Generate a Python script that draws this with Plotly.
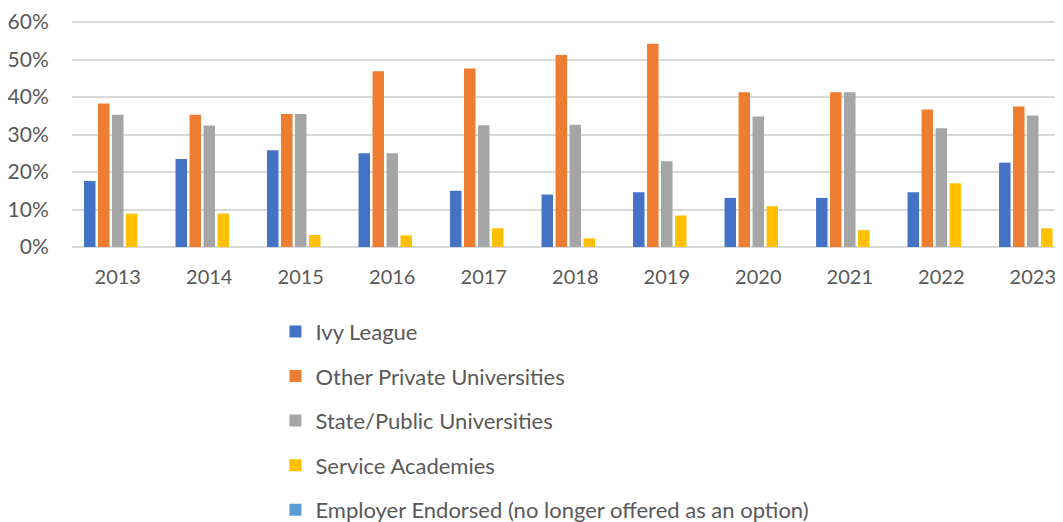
import plotly.graph_objects as go

years = ["2013", "2014", "2015", "2016", "2017", "2018", "2019", "2020", "2021", "2022", "2023"]
ivy_league = [0.176, 0.235, 0.258, 0.250, 0.150, 0.140, 0.146, 0.131, 0.131, 0.146, 0.225]
other_private = [0.383, 0.353, 0.355, 0.469, 0.476, 0.512, 0.542, 0.413, 0.413, 0.367, 0.375]
state_public = [0.353, 0.324, 0.355, 0.250, 0.325, 0.326, 0.229, 0.348, 0.413, 0.317, 0.351]
service_academies = [0.089, 0.089, 0.032, 0.031, 0.050, 0.023, 0.084, 0.109, 0.045, 0.170, 0.050]
employer_endorsed = [0, 0, 0, 0, 0, 0, 0, 0, 0, 0, 0]

series = [
    ("Ivy League", ivy_league, "#4472C4"),
    ("Other Private Universities", other_private, "#ED7D31"),
    ("State/Public Universities", state_public, "#A5A5A5"),
    ("Service Academies", service_academies, "#FFC000"),
    ("Employer Endorsed (no longer offered as an option)", employer_endorsed, "#5B9BD5"),
]

FONT = "Lato"
TXT = "#595959"

fig = go.Figure()
for i, (name, vals, color) in enumerate(series):
    fig.add_trace(go.Bar(
        x=years, y=vals, name=name, marker_color=color,
        marker_line_width=0, legendgroup=f"g{i}",
    ))

fig.update_layout(
    width=1055, height=514,
    margin=dict(l=64, r=0, t=13, b=275, autoexpand=False),
    paper_bgcolor="white", plot_bgcolor="white",
    barmode="group", bargap=0.235, bargroupgap=0.18,
    font=dict(family=FONT, size=20, color=TXT),
    showlegend=True,
    legend=dict(
        orientation="v", xref="container", yref="container",
        x=0.2535, xanchor="left", y=0.4113, yanchor="top",
        font=dict(family=FONT, size=22, color=TXT),
        tracegroupgap=13, itemclick=False, bgcolor="rgba(0,0,0,0)",
    ),
    xaxis=dict(
        type="category", range=[-0.5, 10.33],
        showgrid=False, showline=False, zeroline=False,
        ticks="outside", ticklen=12, tickcolor="rgba(0,0,0,0)",
        tickfont=dict(family=FONT, size=20, color=TXT),
    ),
    yaxis=dict(
        range=[0, 0.6027], dtick=0.1, tickformat=".0%",
        showgrid=True, gridcolor="#D9D9D9", gridwidth=1.5,
        zeroline=True, zerolinecolor="#D9D9D9", zerolinewidth=1.5,
        showline=False,
        ticks="outside", ticklen=18, tickcolor="rgba(0,0,0,0)",
        tickfont=dict(family=FONT, size=21, color=TXT),
    ),
)

fig.write_html("out.html")
